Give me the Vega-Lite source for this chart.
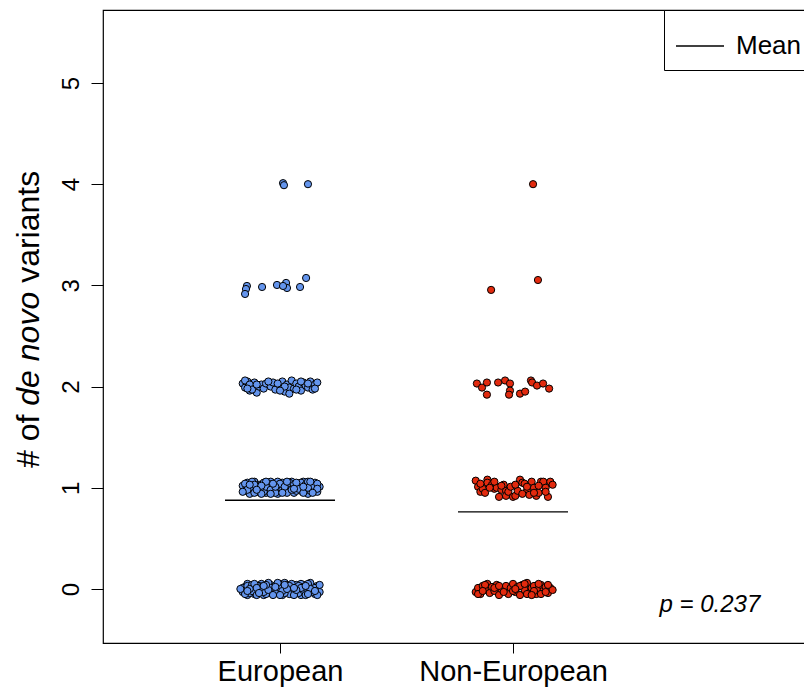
{
  "$schema": "https://vega.github.io/schema/vega-lite/v6.json",
  "autosize": "none",
  "padding": {"left": 103, "top": 10, "right": 0, "bottom": 51},
  "width": 711,
  "height": 633,
  "background": "white",
  "config": {
    "view": {"stroke": "black", "strokeWidth": 1.2},
    "font": "Liberation Sans",
    "axis": {"grid": false, "domain": false, "tickColor": "black", "labelColor": "black", "labelFont": "Liberation Sans", "tickWidth": 1, "labelLimit": 0}
  },
  "datasets": {
    "pts": [
      {"g":1,"x":0.84,"y":-0.03},{"g":1,"x":0.85,"y":0.02},{"g":1,"x":0.86,"y":-0.06},{"g":1,"x":0.87,"y":0.04},{"g":1,"x":0.85,"y":-0.01},
      {"g":1,"x":0.88,"y":0.01},{"g":1,"x":0.89,"y":-0.05},{"g":1,"x":0.86,"y":0.05},{"g":1,"x":0.90,"y":0.03},{"g":1,"x":0.91,"y":-0.02},
      {"g":1,"x":0.87,"y":-0.04},{"g":1,"x":0.92,"y":0.05},{"g":1,"x":0.93,"y":-0.06},{"g":1,"x":0.89,"y":0.00},{"g":1,"x":0.94,"y":0.02},
      {"g":1,"x":0.95,"y":-0.03},{"g":1,"x":0.96,"y":0.04},{"g":1,"x":0.93,"y":0.01},{"g":1,"x":0.97,"y":-0.05},{"g":1,"x":0.98,"y":0.03},
      {"g":1,"x":0.99,"y":-0.01},{"g":1,"x":1.00,"y":0.05},{"g":1,"x":0.96,"y":-0.04},{"g":1,"x":1.01,"y":-0.06},{"g":1,"x":1.02,"y":0.02},
      {"g":1,"x":1.03,"y":-0.02},{"g":1,"x":0.99,"y":0.04},{"g":1,"x":1.04,"y":0.00},{"g":1,"x":1.05,"y":-0.05},{"g":1,"x":1.06,"y":0.03},
      {"g":1,"x":1.07,"y":-0.03},{"g":1,"x":1.02,"y":0.06},{"g":1,"x":1.08,"y":0.01},{"g":1,"x":1.09,"y":-0.06},{"g":1,"x":1.10,"y":0.04},
      {"g":1,"x":1.06,"y":-0.01},{"g":1,"x":1.11,"y":-0.04},{"g":1,"x":1.12,"y":0.02},{"g":1,"x":1.13,"y":-0.02},{"g":1,"x":1.09,"y":0.05},
      {"g":1,"x":1.14,"y":0.00},{"g":1,"x":1.15,"y":-0.05},{"g":1,"x":1.16,"y":0.03},{"g":1,"x":1.13,"y":0.06},{"g":1,"x":1.17,"y":-0.03},
      {"g":1,"x":1.11,"y":0.01},{"g":1,"x":0.84,"y":0.01},{"g":1,"x":0.88,"y":-0.02},{"g":1,"x":0.91,"y":0.03},{"g":1,"x":0.94,"y":-0.05},
      {"g":1,"x":0.97,"y":0.00},{"g":1,"x":1.00,"y":-0.03},{"g":1,"x":1.03,"y":0.04},{"g":1,"x":1.05,"y":0.01},{"g":1,"x":1.08,"y":-0.04},
      {"g":1,"x":1.10,"y":-0.01},{"g":1,"x":1.12,"y":0.05},{"g":1,"x":1.15,"y":0.01},{"g":1,"x":0.86,"y":0.03},{"g":1,"x":0.90,"y":-0.06},
      {"g":1,"x":0.92,"y":-0.01},{"g":1,"x":0.95,"y":0.06},{"g":1,"x":0.98,"y":-0.04},{"g":1,"x":1.01,"y":0.02},{"g":1,"x":1.04,"y":-0.05},
      {"g":1,"x":1.07,"y":0.04},{"g":1,"x":1.10,"y":0.02},{"g":1,"x":1.14,"y":-0.03},{"g":1,"x":1.16,"y":-0.06},{"g":1,"x":0.85,"y":-0.05},
      {"g":1,"x":0.88,"y":0.04},{"g":1,"x":0.93,"y":-0.03},{"g":1,"x":0.96,"y":0.01},{"g":1,"x":1.00,"y":0.01},{"g":1,"x":1.02,"y":-0.04},
      {"g":1,"x":1.05,"y":0.05},{"g":1,"x":1.08,"y":0.03},{"g":1,"x":1.11,"y":-0.06},{"g":1,"x":1.13,"y":0.00},{"g":1,"x":1.17,"y":0.04},
      {"g":1,"x":0.87,"y":0.00},{"g":1,"x":0.89,"y":0.05},{"g":1,"x":0.92,"y":0.02},{"g":1,"x":0.95,"y":-0.01},{"g":1,"x":0.99,"y":0.06},
      {"g":1,"x":1.01,"y":-0.02},{"g":1,"x":1.04,"y":0.03},{"g":1,"x":1.06,"y":-0.06},{"g":1,"x":1.09,"y":0.01},{"g":1,"x":1.12,"y":-0.05},
      {"g":1,"x":0.83,"y":0.00},{"g":1,"x":0.90,"y":0.01},{"g":1,"x":0.94,"y":0.04},{"g":1,"x":0.97,"y":-0.06},{"g":1,"x":1.03,"y":0.00},
      {"g":1,"x":1.07,"y":-0.01},{"g":1,"x":1.11,"y":0.03},{"g":1,"x":1.15,"y":-0.02},{"g":1,"x":0.91,"y":-0.04},{"g":1,"x":1.00,"y":-0.06},
      {"g":1,"x":0.86,"y":-0.02},{"g":1,"x":0.93,"y":0.03},{"g":1,"x":0.98,"y":0.02},{"g":1,"x":1.02,"y":0.04},{"g":1,"x":1.06,"y":0.01},

      {"g":1,"x":0.84,"y":1.02},{"g":1,"x":0.85,"y":0.97},{"g":1,"x":0.86,"y":1.05},{"g":1,"x":0.87,"y":0.94},{"g":1,"x":0.88,"y":1.00},
      {"g":1,"x":0.89,"y":1.06},{"g":1,"x":0.90,"y":0.96},{"g":1,"x":0.91,"y":1.03},{"g":1,"x":0.92,"y":0.99},{"g":1,"x":0.93,"y":1.05},
      {"g":1,"x":0.94,"y":0.95},{"g":1,"x":0.95,"y":1.01},{"g":1,"x":0.96,"y":1.06},{"g":1,"x":0.97,"y":0.97},{"g":1,"x":0.98,"y":1.03},
      {"g":1,"x":0.99,"y":0.94},{"g":1,"x":1.00,"y":1.00},{"g":1,"x":1.01,"y":1.05},{"g":1,"x":1.02,"y":0.96},{"g":1,"x":1.03,"y":1.02},
      {"g":1,"x":1.04,"y":0.98},{"g":1,"x":1.05,"y":1.06},{"g":1,"x":1.06,"y":0.95},{"g":1,"x":1.07,"y":1.01},{"g":1,"x":1.08,"y":1.04},
      {"g":1,"x":1.09,"y":0.97},{"g":1,"x":1.10,"y":1.06},{"g":1,"x":1.11,"y":0.99},{"g":1,"x":1.12,"y":0.94},{"g":1,"x":1.13,"y":1.03},
      {"g":1,"x":1.14,"y":0.98},{"g":1,"x":1.15,"y":1.05},{"g":1,"x":1.16,"y":0.96},{"g":1,"x":1.17,"y":1.01},{"g":1,"x":0.85,"y":1.04},
      {"g":1,"x":0.87,"y":0.99},{"g":1,"x":0.89,"y":0.95},{"g":1,"x":0.91,"y":1.00},{"g":1,"x":0.93,"y":0.96},{"g":1,"x":0.95,"y":1.04},
      {"g":1,"x":0.97,"y":1.00},{"g":1,"x":0.99,"y":1.06},{"g":1,"x":1.01,"y":0.98},{"g":1,"x":1.03,"y":0.95},{"g":1,"x":1.05,"y":1.02},
      {"g":1,"x":1.07,"y":0.97},{"g":1,"x":1.09,"y":1.05},{"g":1,"x":1.11,"y":1.03},{"g":1,"x":1.13,"y":0.97},{"g":1,"x":1.15,"y":0.99},
      {"g":1,"x":0.86,"y":0.98},{"g":1,"x":0.88,"y":1.06},{"g":1,"x":0.90,"y":1.02},{"g":1,"x":0.92,"y":0.94},{"g":1,"x":0.94,"y":1.01},
      {"g":1,"x":0.96,"y":0.98},{"g":1,"x":0.98,"y":0.95},{"g":1,"x":1.00,"y":1.04},{"g":1,"x":1.02,"y":1.01},{"g":1,"x":1.04,"y":1.05},
      {"g":1,"x":1.06,"y":1.03},{"g":1,"x":1.08,"y":0.99},{"g":1,"x":1.10,"y":0.95},{"g":1,"x":1.12,"y":1.06},{"g":1,"x":1.14,"y":1.02},
      {"g":1,"x":1.16,"y":1.04},{"g":1,"x":0.84,"y":0.96},{"g":1,"x":0.89,"y":1.03},{"g":1,"x":0.94,"y":1.06},{"g":1,"x":0.98,"y":1.01},
      {"g":1,"x":1.03,"y":1.06},{"g":1,"x":1.07,"y":1.05},{"g":1,"x":1.12,"y":1.00},{"g":1,"x":1.16,"y":0.99},{"g":1,"x":0.87,"y":1.03},
      {"g":1,"x":0.92,"y":1.02},{"g":1,"x":0.96,"y":0.94},{"g":1,"x":1.01,"y":0.95},{"g":1,"x":1.05,"y":0.98},{"g":1,"x":1.10,"y":1.01},
      {"g":1,"x":1.14,"y":0.95},{"g":1,"x":0.90,"y":0.98},{"g":1,"x":0.97,"y":1.04},{"g":1,"x":1.06,"y":0.99},{"g":1,"x":1.13,"y":1.06},

      {"g":1,"x":0.84,"y":2.03},{"g":1,"x":0.85,"y":1.99},{"g":1,"x":0.86,"y":2.05},{"g":1,"x":0.87,"y":1.96},{"g":1,"x":0.88,"y":2.01},
      {"g":1,"x":0.89,"y":2.04},{"g":1,"x":0.90,"y":1.94},{"g":1,"x":0.91,"y":2.00},{"g":1,"x":0.92,"y":2.02},{"g":1,"x":0.93,"y":1.98},
      {"g":1,"x":0.94,"y":2.03},{"g":1,"x":0.96,"y":2.00},{"g":1,"x":0.97,"y":2.04},{"g":1,"x":0.98,"y":1.97},{"g":1,"x":1.00,"y":2.01},
      {"g":1,"x":1.01,"y":2.05},{"g":1,"x":1.02,"y":1.95},{"g":1,"x":1.03,"y":2.02},{"g":1,"x":1.04,"y":1.99},{"g":1,"x":1.05,"y":2.06},
      {"g":1,"x":1.06,"y":1.98},{"g":1,"x":1.07,"y":2.03},{"g":1,"x":1.08,"y":2.00},{"g":1,"x":1.09,"y":1.96},{"g":1,"x":1.10,"y":2.04},
      {"g":1,"x":1.11,"y":2.01},{"g":1,"x":1.12,"y":1.99},{"g":1,"x":1.13,"y":2.05},{"g":1,"x":1.14,"y":1.97},{"g":1,"x":1.15,"y":2.02},
      {"g":1,"x":1.16,"y":2.04},{"g":1,"x":0.85,"y":2.06},{"g":1,"x":0.87,"y":2.02},{"g":1,"x":0.88,"y":1.97},{"g":1,"x":0.90,"y":2.02},
      {"g":1,"x":0.95,"y":2.05},{"g":1,"x":0.99,"y":2.03},{"g":1,"x":1.02,"y":2.00},{"g":1,"x":1.04,"y":1.93},{"g":1,"x":1.07,"y":1.97},
      {"g":1,"x":1.09,"y":2.05},{"g":1,"x":1.12,"y":2.03},{"g":1,"x":1.15,"y":1.98},{"g":1,"x":0.86,"y":1.98},{"g":1,"x":1.00,"y":1.96},

      {"g":1,"x":0.858,"y":2.994},{"g":1,"x":0.854,"y":2.964},{"g":1,"x":0.850,"y":2.915},{"g":1,"x":0.923,"y":2.984},{"g":1,"x":0.987,"y":3.004},
      {"g":1,"x":1.026,"y":3.024},{"g":1,"x":1.030,"y":2.974},{"g":1,"x":1.013,"y":2.994},{"g":1,"x":1.086,"y":2.984},{"g":1,"x":1.112,"y":3.073},

      {"g":1,"x":1.013,"y":4.01},{"g":1,"x":1.017,"y":3.99},{"g":1,"x":1.120,"y":4.00},

      {"g":2,"x":1.84,"y":-0.03},{"g":2,"x":1.85,"y":0.01},{"g":2,"x":1.86,"y":-0.05},{"g":2,"x":1.87,"y":0.03},{"g":2,"x":1.88,"y":-0.01},
      {"g":2,"x":1.89,"y":0.05},{"g":2,"x":1.90,"y":-0.04},{"g":2,"x":1.91,"y":0.02},{"g":2,"x":1.92,"y":-0.02},{"g":2,"x":1.93,"y":0.04},
      {"g":2,"x":1.94,"y":-0.06},{"g":2,"x":1.95,"y":0.00},{"g":2,"x":1.97,"y":0.03},{"g":2,"x":1.98,"y":-0.05},{"g":2,"x":1.99,"y":0.01},
      {"g":2,"x":2.00,"y":0.05},{"g":2,"x":2.01,"y":-0.03},{"g":2,"x":2.02,"y":0.02},{"g":2,"x":2.03,"y":-0.06},{"g":2,"x":2.04,"y":0.04},
      {"g":2,"x":2.05,"y":-0.01},{"g":2,"x":2.06,"y":0.06},{"g":2,"x":2.07,"y":-0.04},{"g":2,"x":2.08,"y":0.01},{"g":2,"x":2.09,"y":0.03},
      {"g":2,"x":2.10,"y":-0.05},{"g":2,"x":2.11,"y":0.00},{"g":2,"x":2.12,"y":0.04},{"g":2,"x":2.13,"y":-0.02},{"g":2,"x":2.14,"y":0.02},
      {"g":2,"x":2.15,"y":-0.04},{"g":2,"x":2.16,"y":0.01},{"g":2,"x":2.17,"y":-0.01},{"g":2,"x":1.85,"y":-0.05},{"g":2,"x":1.88,"y":0.04},
      {"g":2,"x":1.92,"y":0.01},{"g":2,"x":1.96,"y":-0.03},{"g":2,"x":2.00,"y":-0.02},{"g":2,"x":2.03,"y":0.03},{"g":2,"x":2.06,"y":-0.05},
      {"g":2,"x":2.09,"y":-0.02},{"g":2,"x":2.12,"y":-0.05},{"g":2,"x":2.15,"y":0.04},{"g":2,"x":1.87,"y":-0.02},{"g":2,"x":1.94,"y":0.03},
      {"g":2,"x":2.01,"y":0.00},{"g":2,"x":2.05,"y":0.05},{"g":2,"x":2.08,"y":-0.06},{"g":2,"x":2.11,"y":0.05},{"g":2,"x":2.14,"y":-0.03},

      {"g":2,"x":1.84,"y":1.07},{"g":2,"x":1.85,"y":1.01},{"g":2,"x":1.86,"y":0.96},{"g":2,"x":1.87,"y":0.99},{"g":2,"x":1.89,"y":1.08},
      {"g":2,"x":1.89,"y":1.05},{"g":2,"x":1.91,"y":1.03},{"g":2,"x":1.92,"y":0.99},{"g":2,"x":1.93,"y":1.00},{"g":2,"x":1.94,"y":0.91},
      {"g":2,"x":1.95,"y":0.98},{"g":2,"x":1.96,"y":1.03},{"g":2,"x":1.97,"y":0.97},{"g":2,"x":1.97,"y":0.92},{"g":2,"x":1.98,"y":0.96},
      {"g":2,"x":2.00,"y":0.91},{"g":2,"x":2.01,"y":0.92},{"g":2,"x":2.02,"y":0.97},{"g":2,"x":2.03,"y":1.08},{"g":2,"x":2.04,"y":1.05},
      {"g":2,"x":2.05,"y":1.04},{"g":2,"x":2.06,"y":0.97},{"g":2,"x":2.07,"y":0.93},{"g":2,"x":2.08,"y":1.06},{"g":2,"x":2.09,"y":1.00},
      {"g":2,"x":2.10,"y":0.92},{"g":2,"x":2.11,"y":0.95},{"g":2,"x":2.12,"y":1.06},{"g":2,"x":2.13,"y":1.06},{"g":2,"x":2.14,"y":1.00},
      {"g":2,"x":2.15,"y":0.91},{"g":2,"x":2.16,"y":1.06},{"g":2,"x":1.86,"y":1.04},{"g":2,"x":1.88,"y":0.95},{"g":2,"x":1.90,"y":1.00},
      {"g":2,"x":1.92,"y":1.06},{"g":2,"x":1.95,"y":1.02},{"g":2,"x":1.99,"y":1.01},{"g":2,"x":2.01,"y":1.03},{"g":2,"x":2.04,"y":0.94},
      {"g":2,"x":2.06,"y":1.01},{"g":2,"x":2.09,"y":0.95},{"g":2,"x":2.11,"y":1.02},{"g":2,"x":2.14,"y":0.96},{"g":2,"x":2.17,"y":1.03},

      {"g":2,"x":1.845,"y":2.03},{"g":2,"x":1.867,"y":1.99},{"g":2,"x":1.888,"y":2.04},{"g":2,"x":1.888,"y":1.92},{"g":2,"x":1.936,"y":2.04},
      {"g":2,"x":1.966,"y":2.06},{"g":2,"x":1.987,"y":2.03},{"g":2,"x":1.987,"y":1.96},{"g":2,"x":1.983,"y":1.92},{"g":2,"x":2.030,"y":1.93},
      {"g":2,"x":2.052,"y":1.95},{"g":2,"x":2.077,"y":2.06},{"g":2,"x":2.082,"y":2.04},{"g":2,"x":2.103,"y":2.01},{"g":2,"x":2.129,"y":2.03},
      {"g":2,"x":2.155,"y":1.98},

      {"g":2,"x":1.906,"y":2.955},{"g":2,"x":2.107,"y":3.053},
      {"g":2,"x":2.086,"y":4.00}
    ]
  },
  "data": {"name": "pts"},
  "layer": [
    {
      "mark": {"type": "circle", "size": 52, "stroke": "black", "strokeWidth": 1, "opacity": 1},
      "encoding": {
        "x": {"field": "x", "type": "quantitative", "scale": {"domain": [0.2403, 3.2918], "nice": false, "zero": false},
              "axis": {"values": [1, 2], "title": null, "tickSize": 10, "labelFontSize": 29, "labelPadding": 4,
                       "labelExpr": "datum.value == 1 ? 'European' : 'Non-European'"}},
        "y": {"field": "y", "type": "quantitative", "scale": {"domain": [-0.534, 5.721], "nice": false, "zero": false},
              "axis": {"values": [0, 1, 2, 3, 4, 5], "format": "d", "title": null, "tickSize": 12, "labelFontSize": 24, "labelAngle": 270, "labelPadding": 8}},
        "fill": {"field": "g", "type": "nominal", "scale": {"domain": [1, 2], "range": ["#6495ED", "#E22A0E"]}, "legend": null}
      }
    },
    {
      "transform": [{"aggregate": [{"op": "mean", "field": "y", "as": "m"}], "groupby": ["g"]}],
      "mark": {"type": "tick", "orient": "horizontal", "size": 110, "thickness": 1.3, "opacity": 1},
      "encoding": {
        "x": {"field": "g", "type": "quantitative"},
        "y": {"field": "m", "type": "quantitative"},
        "color": {"datum": "Mean", "scale": {"domain": ["Mean"], "range": ["black"]},
                  "legend": {"title": null, "orient": "none", "legendX": 561, "legendY": 0, "symbolType": "stroke",
                             "symbolStrokeColor": "black", "symbolStrokeWidth": 1.5, "symbolOpacity": 1, "symbolSize": 2304,
                             "labelFontSize": 26, "labelFont": "Liberation Sans", "labelColor": "black", "labelOffset": 11,
                             "strokeColor": "black", "fillColor": "white", "padding": 11, "cornerRadius": 0}}
      }
    },
    {
      "data": {"values": [{}]},
      "mark": {"type": "text", "text": "# of", "angle": 270, "align": "left", "baseline": "alphabetic", "fontSize": 32, "font": "Liberation Sans", "fill": "black"},
      "encoding": {"x": {"datum": -0.035}, "y": {"datum": 1.196}}
    },
    {
      "data": {"values": [{}]},
      "mark": {"type": "text", "text": "de novo", "angle": 270, "align": "left", "baseline": "alphabetic", "fontSize": 32, "font": "Liberation Sans", "fontStyle": "italic", "fill": "black"},
      "encoding": {"x": {"datum": -0.035}, "y": {"datum": 1.811}}
    },
    {
      "data": {"values": [{}]},
      "mark": {"type": "text", "text": "variants", "angle": 270, "align": "left", "baseline": "alphabetic", "fontSize": 32, "font": "Liberation Sans", "fill": "black"},
      "encoding": {"x": {"datum": -0.035}, "y": {"datum": 3.025}}
    },
    {
      "data": {"values": [{}]},
      "mark": {"type": "text", "text": "p = 0.237", "align": "center", "baseline": "alphabetic", "fontSize": 24, "font": "Liberation Sans", "fontStyle": "italic", "fill": "black"},
      "encoding": {"x": {"datum": 2.845}, "y": {"datum": -0.227}}
    }
  ]
}
